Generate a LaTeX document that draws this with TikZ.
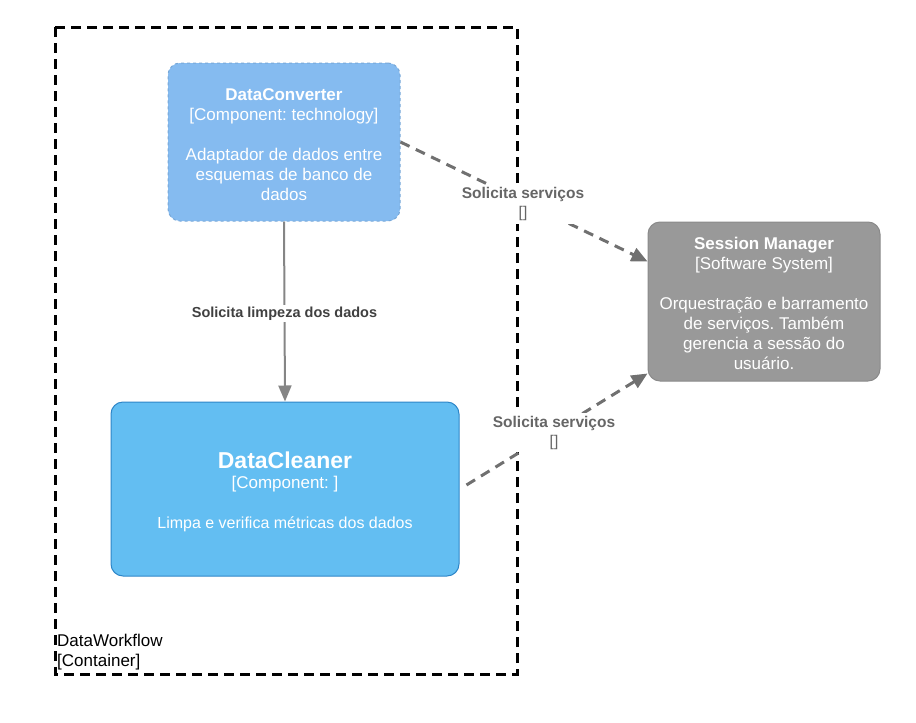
\documentclass[tikz,border=0pt]{standalone}
\usepackage{fontspec}
\setmainfont{Liberation Sans}
\usetikzlibrary{arrows.meta,positioning,calc}
\frenchspacing
\definecolor{convfill}{HTML}{85BBF0}
\definecolor{convdraw}{HTML}{78A8D8}
\definecolor{cleanfill}{HTML}{63BEF2}
\definecolor{cleandraw}{HTML}{2E86C8}
\definecolor{smfill}{HTML}{999999}
\definecolor{smdraw}{HTML}{8A8A8A}
\definecolor{relgray}{HTML}{707070}
\definecolor{solidgray}{HTML}{858585}
\definecolor{labdark}{HTML}{404040}
\definecolor{labgray}{HTML}{666666}
\tikzset{
  boxbase/.style={rounded corners=12pt, line width=1pt, inner sep=0pt},
  boxtext/.style={text=white, align=center, font=\fontsize{17}{20}\selectfont},
  dashrel/.style={draw=relgray, line width=3pt, dash pattern=on 10pt off 7pt,
    -{Triangle[length=16pt,width=14pt,fill=relgray]}},
  solidrel/.style={draw=solidgray, line width=2pt,
    -{Triangle[length=16pt,width=13pt,fill=solidgray]}},
  rellabel/.style={fill=white, inner sep=3pt, align=center, text=labgray,
    font=\fontsize{15.5}{19}\selectfont},
  boundary/.style={draw=black, line width=3pt, dash pattern=on 10pt off 6pt}
}
\begin{document}
\frenchspacing
\begin{tikzpicture}[x=1pt,y=-1pt]
\useasboundingbox (0,0) rectangle (916,723);
% container boundary
\draw[boundary] (55,27) rectangle (517,674);
\node[anchor=west, align=left, inner sep=0pt, font=\fontsize{17}{20}\selectfont] (cont) at (57,652) {DataWorkflow\\{[Container]}};
% boxes
\node[boxbase, fill=convfill, draw=convdraw, dashed, minimum width=232pt, minimum height=158pt] (dc) at (284,142) {};
\node[boxtext] (dct) at (284,144.5) {\textbf{DataConverter}\\{[Component: technology]}\\[20pt]Adaptador de dados entre\\esquemas de banco de\\dados};
\node[boxbase, fill=cleanfill, draw=cleandraw, minimum width=348pt, minimum height=174pt] (cl) at (285,489) {};
\node[boxtext] (clt) at (285,492) {{\fontsize{23}{26}\selectfont\textbf{DataCleaner}}\\{[Component: ]}\\[20pt]{\fontsize{16}{20}\selectfont Limpa e verifica métricas dos dados}};
\node[boxbase, fill=smfill, draw=smdraw, minimum width=232pt, minimum height=159pt] (sm) at (764,301.5) {};
\node[boxtext] (smt) at (764,303) {\textbf{Session Manager}\\{[Software System]}\\[20pt]Orquestração e barramento\\de serviços. Também\\gerencia a sessão do\\usuário.};
% relations
\coordinate (smin1) at ([yshift=40pt]sm.west);
\coordinate (smin2) at ([yshift=-72pt]sm.west);
\coordinate (clout) at ([xshift=7pt,yshift=4pt]cl.east);
\draw[solidrel] (dc.south) -- (cl.north)
  node[midway, yshift=-2pt, fill=white, inner sep=2pt, text=labdark, font=\fontsize{14.5}{18}\selectfont\bfseries] (l1) {Solicita limpeza dos dados};
\draw[dashrel] (dc.east) -- (smin1)
  node[midway, yshift=-2.5pt, xshift=-1pt, rellabel] (l2) {\textbf{Solicita serviços}\\{[]}};
\draw[dashrel] (clout) -- (smin2)
  node[midway, yshift=-3.5pt, xshift=-3pt, rellabel] (l3) {\textbf{Solicita serviços}\\{[]}};
\end{tikzpicture}
\end{document}
